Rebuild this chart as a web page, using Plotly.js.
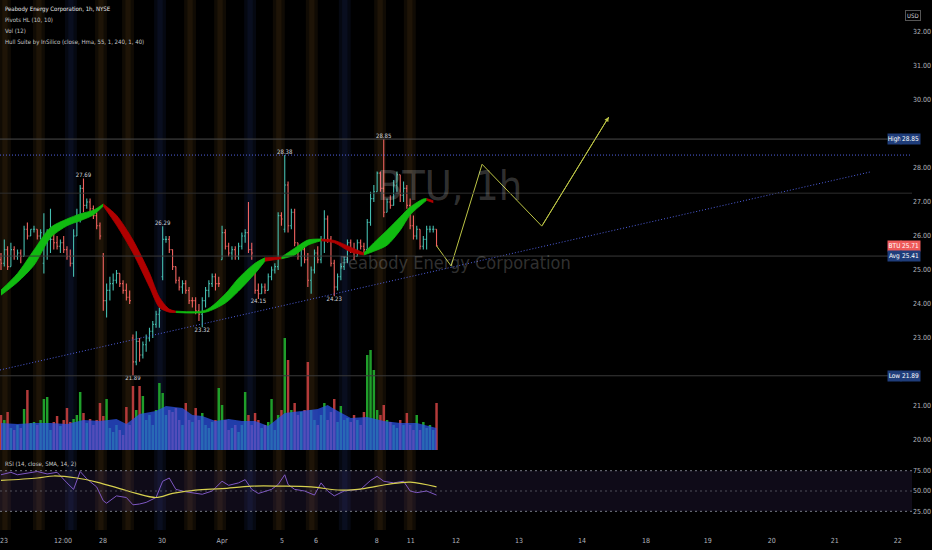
<!DOCTYPE html>
<html>
<head>
<meta charset="utf-8">
<script src="https://cdn.plot.ly/plotly-3.0.1.min.js"></script>
<style>html,body{margin:0;padding:0;background:#000;}#chart{width:932px;height:550px;}</style>
</head>
<body>
<div id="chart"></div>
<script>
// ---------------- DATA ----------------
const open = [25.3,25.2,25.6,25.1,25.6,25.4,25.5,25.4,26.2,26.0, 26.2,26.2,26.0,25.2,25.8,25.9,25.9,25.8,25.7,25.8, 25.6,25.4,25.2,26.0,26.6,27.4,26.9,27.0,26.8,26.6, 26.3,25.4,24.1,24.4,24.6,24.7,24.9,24.6,24.4,24.2, 23.0,22.3,22.9,22.5,22.8,23.0,23.2,23.4,23.7,24.8, 25.9,25.9,25.6,25.1,24.7,24.5,24.6,24.4,24.1,24.1, 23.8,23.7,24.1,24.4,24.6,24.8,24.6,25.3,26.1,25.7, 25.5,25.6,25.4,25.7,26.0,26.1,25.6,24.9,24.4,24.3, 24.5,24.4,24.8,25.0,25.1,26.6,26.2,27.5,26.3,26.7, 25.8,25.4,25.6,25.3,24.7,25.0,25.5,25.3,25.9,26.5, 25.9,25.2,24.5,24.8,25.1,25.3,25.8,25.6,25.4,25.8, 25.7,25.6,26.4,27.1,27.3,27.85,27.4,26.7,27.0,26.9, 27.5,27.8,27.2,27.4,26.9,26.3,26.0,26.2,25.7,25.9, 26.2,26.2,26.2];
const high = [25.5,25.9,25.7,25.8,25.7,25.6,25.6,26.3,26.4,26.2, 26.3,26.2,26.2,26.67,26.2,26.8,26.1,26.0,25.9,26.0, 25.7,25.6,26.2,26.8,27.5,27.69,27.1,27.1,26.9,26.7, 26.4,25.5,24.6,24.8,24.9,25.0,24.9,24.7,24.6,24.4, 23.1,23.2,23.0,22.9,23.1,23.3,23.5,23.8,23.9,26.29, 26.0,26.0,25.6,25.1,24.8,24.7,24.7,24.5,24.2,24.2, 24.0,24.2,24.5,24.7,24.9,24.9,24.8,26.3,26.2,25.8, 25.7,25.7,25.8,26.1,26.2,27.0,25.8,25.0,24.6,24.6, 24.6,24.9,25.1,25.2,26.7,26.7,28.38,27.6,26.8,26.8, 25.8,25.7,25.7,25.5,25.1,25.6,25.7,26.0,26.76,26.6, 26.0,25.3,24.9,25.2,25.4,25.9,25.9,25.8,25.9,25.9, 25.8,26.5,27.3,27.5,27.9,27.9,28.85,27.1,27.2,27.65, 27.9,27.8,27.6,27.5,27.1,26.6,26.3,26.2,26.0,26.3, 26.3,26.3,26.2];
const low = [25.0,25.1,25.0,25.1,25.3,25.3,25.2,25.4,25.9,26.0, 26.1,25.9,25.9,24.9,25.3,25.5,25.6,25.6,25.5,25.5, 25.3,25.1,24.8,26.0,26.4,26.7,26.8,26.7,26.5,26.2, 25.9,23.8,23.6,24.1,24.4,24.6,24.5,24.3,24.1,24.0, 21.89,22.2,22.3,22.4,22.6,22.9,23.0,23.3,23.3,24.7, 25.8,25.5,25.0,24.6,24.4,24.3,24.3,24.0,23.9,23.7, 23.5,23.32,23.9,24.2,24.5,24.4,24.5,25.3,25.6,25.4, 25.3,25.3,25.3,25.6,25.8,25.5,25.3,24.3,24.15,24.3, 24.3,24.4,24.7,24.9,25.0,26.3,26.1,26.1,26.2,25.7, 25.3,25.1,25.2,24.5,24.3,24.9,25.2,25.2,25.5,25.8, 25.1,24.23,24.4,24.7,25.0,25.2,25.5,25.3,25.4,25.6, 25.5,25.6,26.3,27.0,27.3,27.3,26.55,26.7,26.8,26.9, 27.3,27.0,27.0,26.8,26.2,25.9,25.9,25.6,25.6,25.6, 26.1,26.1,25.7];
const close = [25.2,25.6,25.1,25.6,25.4,25.5,25.4,26.2,26.0,26.2, 26.2,26.0,26.1,25.8,25.9,25.9,25.8,25.7,25.8,25.6, 25.4,25.2,26.0,26.6,27.4,26.9,27.0,26.8,26.6,26.3, 26.0,24.1,24.4,24.6,24.7,24.9,24.6,24.4,24.2,24.1, 22.3,22.9,22.5,22.8,23.0,23.2,23.4,23.7,23.8,25.9, 25.9,25.6,25.1,24.7,24.5,24.6,24.4,24.1,24.1,23.8, 23.7,24.1,24.4,24.6,24.8,24.6,24.6,26.1,25.7,25.5, 25.6,25.4,25.7,26.0,26.1,25.6,25.5,24.4,24.3,24.5, 24.4,24.8,25.0,25.1,26.6,26.5,27.5,26.3,26.7,25.8, 25.4,25.6,25.3,24.7,25.0,25.5,25.3,25.9,26.5,25.9, 25.2,24.5,24.8,25.1,25.3,25.8,25.6,25.4,25.8,25.7, 25.6,26.4,27.1,27.3,27.85,27.4,26.7,27.0,26.9,27.5, 27.8,27.2,27.4,26.9,26.3,26.0,26.2,25.7,25.9,26.2, 26.2,26.2,25.71];
// volume, thousands of shares
const volume = [350,300,380,220,200,250,220,410,600,270, 280,250,300,510,530,200,280,340,240,300, 420,280,310,350,580,370,270,310,250,300, 470,340,510,220,180,250,200,150,430,250, 640,400,640,540,300,350,250,400,670,570, 350,400,380,420,300,250,470,300,280,420, 300,370,250,220,280,300,620,450,300,200, 220,250,180,250,580,350,250,370,300,220, 250,280,510,200,350,400,1120,900,400,470, 350,380,400,880,400,300,250,350,470,300, 380,510,280,440,300,320,280,350,300,250, 380,950,1000,800,400,350,450,300,280,250, 220,300,250,370,250,200,350,200,280,220, 250,200,470];
const volMaIdx = [0,5,10,15,20,25,30,35,38,42,47,50,55,58,61,65,69,73,77,81,86,91,96,99,101,106,111,116,121,126,132];
const volMa    = [270,260,270,270,260,300,290,310,260,360,390,440,420,350,340,290,310,290,290,240,370,390,410,450,410,320,330,290,270,270,220];

// Hull Suite band (knots: bar index, upper edge, lower edge)
const hullIdx = [0,5,10,15,20,24,28,31,35,40,45,48,51,53,62,68,72,77,80,85,89,93,97,101,106,110,113,117,121,124,128,129,131];
const hullUp  = [24.41,24.9,25.59,26.25,26.5,26.65,26.76,26.94,26.61,25.88,24.91,24.2,23.85,23.79,23.82,24.3,24.76,25.2,25.36,25.38,25.64,25.88,25.91,25.87,25.67,25.5,25.8,26.17,26.56,26.85,27.09,27.1,27.04];
const hullLo  = [24.26,24.64,25.14,25.95,26.3,26.45,26.62,26.88,26.32,25.5,24.5,23.9,23.76,23.75,23.76,24.03,24.38,24.9,25.26,25.33,25.44,25.73,25.86,25.8,25.53,25.44,25.55,25.73,26.17,26.62,26.97,27.05,26.98];
// trend segments: [from knot, to knot, direction]
const hullSegments = [[0,7,'up'],[7,13,'down'],[13,18,'up'],[18,19,'down'],[19,22,'up'],[22,25,'down'],[25,31,'up'],[31,32,'down']];

// RSI (14) and its SMA (14)
const rsiIdx = [0,3,5,8,11,14,17,20,22,24,26,29,31,32,35,38,40,42,44,47,49,51,53,56,59,61,64,67,69,72,74,76,78,82,84,86,87,89,92,95,97,99,101,104,106,109,112,114,116,119,122,124,126,129,132];
const rsiVal = [70,73,70,72,74,71,73,60,52,74,65,55,38,35,44,42,33,34,36,42,62,66,52,49,47,46,50,62,57,60,64,52,47,52,58,70,58,52,50,45,60,50,44,50,51,52,63,68,62,60,62,50,48,50,45];
const smaIdx = [0,11,16,23,29,36,41,47,52,59,67,76,85,94,103,110,117,124,132];
const smaVal = [63,66,68.5,66,61,53,47,42,47,51,53,56,56,55,51,53,58,61,55];

// pivots
const pivotHighIdx = [25,49,86,116];
const pivotLowIdx  = [40,61,78,101];

// levels
const levelHigh = 28.85, levelLow = 21.89, levelAvg = 25.41, pivotLevel = 28.38, greyLevel = 27.26;

// drawings
const trendIdx = [-0.3, 263.3];
const trendPx  = [22.06, 27.88];
const projIdx = [132, 136.4, 145.8, 163.9, 184.2];
const projPx  = [25.71, 25.12, 28.11, 26.29, 29.5];

// session highlight columns (bar index)
const sessionIdx = [1.2,11.5,21.2,30.3,38.5,48.2,57.3,66.4,75.5,84.2,94.2,104.2,114.9,123.9];

// axis ticks
const tickIdx  = [0.9,18.8,30.9,48.8,67.0,85.2,95.5,113.9,124.2,137.9,157.0,176.1,195.5,214.2,233.6,252.7,271.8];
const tickText = ['23','12:00','28','30','Apr','5','6','8','11','12','13','14','18','19','20','21','22'];
const priceTicks = [20,21,23,24,25,26,27,28,30,31,32];
const rsiTicks = [25,50,75];

// ---------------- CHART ----------------
const F = "'Liberation Sans Narrow','DejaVu Sans Condensed','Arial Narrow',sans-serif";
const idx = open.map((_, i) => i);
const up = idx.map(i => close[i] >= open[i]);
const PLOT_W = 912, PLOT_H = 530;
const px = v => v / PLOT_W;
const py = v => 1 - v / PLOT_H;
const DOT = '1px,2px';

const traces = [];

// volume
traces.push({type:'bar', x: idx, y: volume, yaxis:'y3', width:0.75,
  marker:{color: up.map(u => u ? '#1f9e2a' : '#b43a3a'), line:{width:0}}, hoverinfo:'skip'});
traces.push({type:'scatter', mode:'lines', x: volMaIdx, y: volMa, yaxis:'y3', fill:'tozeroy',
  line:{width:0, color:'rgba(45,85,235,0.72)'}, fillcolor:'rgba(45,85,235,0.72)', hoverinfo:'skip'});

// price bars
traces.push({type:'ohlc', x: idx, open, high, low, close, tickwidth:0.35,
  increasing:{line:{color:'#45bcae', width:1.1}}, decreasing:{line:{color:'#f0635f', width:1.1}}, hoverinfo:'skip'});

// hull band
hullSegments.forEach(([a, b, dir]) => {
  const col = dir === 'up' ? '#10bb10' : '#b00000';
  const xs = hullIdx.slice(a, b + 1);
  traces.push({type:'scatter', mode:'lines', x: xs, y: hullLo.slice(a, b + 1),
    line:{color: col, width:0.8, shape:'spline', smoothing:0.8}, hoverinfo:'skip'});
  traces.push({type:'scatter', mode:'lines', x: xs, y: hullUp.slice(a, b + 1), fill:'tonexty', fillcolor: col,
    line:{color: col, width:0.8, shape:'spline', smoothing:0.8}, hoverinfo:'skip'});
});

// trend line & projection
traces.push({type:'scatter', mode:'lines', x: trendIdx, y: trendPx, line:{color:'#5060e0', width:1, dash:DOT}, hoverinfo:'skip'});
traces.push({type:'scatter', mode:'lines', x: projIdx, y: projPx, line:{color:'#bcc445', width:1}, hoverinfo:'skip'});

// pivot labels
traces.push({type:'scatter', mode:'text', x: pivotHighIdx, y: pivotHighIdx.map(i => high[i]),
  text: pivotHighIdx.map(i => high[i].toFixed(2)), textposition:'top center',
  textfont:{family:F, size:6, color:'#d1d4dc'}, hoverinfo:'skip'});
traces.push({type:'scatter', mode:'text', x: pivotLowIdx, y: pivotLowIdx.map(i => low[i]),
  text: pivotLowIdx.map(i => low[i].toFixed(2)), textposition:'bottom center',
  textfont:{family:F, size:6, color:'#d1d4dc'}, hoverinfo:'skip'});

// RSI
traces.push({type:'scatter', mode:'lines', x: rsiIdx, y: rsiVal, yaxis:'y2', line:{color:'#7e57c2', width:1}, hoverinfo:'skip'});
traces.push({type:'scatter', mode:'lines', x: smaIdx, y: smaVal, yaxis:'y2', line:{color:'#d6cf4e', width:1.2, shape:'spline'}, hoverinfo:'skip'});

// shapes
const shapes = [];
sessionIdx.forEach((s, k) => {
  const c = (k % 3 === 2) ? 'rgba(40,60,130,0.13)' : 'rgba(130,90,30,0.12)';
  shapes.push({type:'rect', xref:'x', yref:'paper', x0: s - 1.8, x1: s + 1.8, y0: 0, y1: 1, fillcolor: c, line:{width:0}, layer:'below'});
  shapes.push({type:'rect', xref:'x', yref:'paper', x0: s - 0.8, x1: s + 0.8, y0: 0, y1: 1, fillcolor: c, line:{width:0}, layer:'below'});
});
shapes.push({type:'rect', xref:'paper', yref:'y2', x0:0, x1:1, y0:25, y1:75, fillcolor:'rgba(126,87,194,0.12)', line:{width:0}, layer:'below'});
rsiTicks.forEach(v => shapes.push({type:'line', xref:'paper', yref:'y2', x0:0, x1:1, y0:v, y1:v,
  line:{color: v === 50 ? 'rgba(120,123,134,0.6)' : '#787b86', width:1, dash:'2px,3px'}}));
shapes.push({type:'line', xref:'paper', yref:'y', x0:0, x1:px(895), y0:levelHigh, y1:levelHigh, line:{color:'#4a4a4a', width:1}});
shapes.push({type:'line', xref:'paper', yref:'y', x0:0, x1:px(895), y0:levelLow, y1:levelLow, line:{color:'#3a3a3a', width:1}});
shapes.push({type:'line', xref:'paper', yref:'y', x0:0, x1:px(895), y0:levelAvg, y1:levelAvg, line:{color:'#3a3a3a', width:1}});
shapes.push({type:'line', xref:'paper', yref:'y', x0:0, x1:1, y0:greyLevel, y1:greyLevel, line:{color:'#2e2e2e', width:1}});
shapes.push({type:'line', xref:'paper', yref:'y', x0:0, x1:1, y0:pivotLevel, y1:pivotLevel, line:{color:'#5060e0', width:1, dash:DOT}});

// annotations
const ann = [];
const legendLines = [['Peabody Energy Corporation, 1h, NYSE', 9, '#e8e8e8'], ['Pivots HL (10, 10)', 20, '#c8c8c8'],
  ['Vol (12)', 31, '#c8c8c8'], ['Hull Suite by InSilico (close, Hma, 55, 1, 240, 1, 40)', 42, '#c8c8c8']];
legendLines.forEach(([t, y, c]) => ann.push({xref:'paper', yref:'paper', x: px(3), y: py(y), xanchor:'left', yanchor:'middle',
  text: t, showarrow:false, font:{family:F, size:6, color:c}}));
ann.push({xref:'paper', yref:'paper', x: px(3), y: py(463), xanchor:'left', yanchor:'middle', text:'RSI (14, close, SMA, 14, 2)',
  showarrow:false, font:{family:F, size:6, color:'#c8c8c8'}});
ann.push({xref:'paper', yref:'paper', x: px(449), y: py(186), text:'BTU, 1h', showarrow:false,
  font:{family:F, size:41, color:'rgba(255,255,255,0.2)'}});
ann.push({xref:'paper', yref:'paper', x: px(455), y: py(262), text:'Peabody Energy Corporation', showarrow:false,
  font:{family:F, size:18, color:'rgba(255,255,255,0.2)'}});
ann.push({xref:'paper', yref:'paper', x: px(921), y: py(10), text:'USD', showarrow:false, bgcolor:'#000',
  bordercolor:'#555', borderwidth:1, borderpad:1, font:{family:F, size:6, color:'#d1d4dc'}});
const tags = [['High', levelHigh, '#1f3d7a'], ['BTU', close[close.length - 1], '#ef5a5a'], ['Avg', levelAvg, '#1f3d7a'], ['Low', levelLow, '#1f3d7a']];
tags.forEach(([name, v, bg]) => {
  ann.push({xref:'paper', yref:'y', x: px(901.5), y: v, text: name, showarrow:false, bgcolor: bg, width:13, height:10, borderpad:0,
    font:{family:F, size:6.5, color:'#fff'}});
  ann.push({xref:'paper', yref:'y', x: px(920.5), y: v, text: v.toFixed(2), showarrow:false, bgcolor: bg, width:19, height:10, borderpad:0,
    font:{family:F, size:6.5, color:'#fff'}});
});
const n = projIdx.length;
ann.push({xref:'x', yref:'y', axref:'x', ayref:'y', x: projIdx[n - 1], y: projPx[n - 1], ax: projIdx[n - 2], ay: projPx[n - 2],
  text:'', showarrow:true, arrowhead:2, arrowsize:0.9, arrowwidth:1, arrowcolor:'#bcc445', standoff:0});

const tickfont = {family:F, size:7, color:'#b2b5be'};
const layout = {
  width:932, height:550, margin:{l:0, r:20, t:0, b:20},
  paper_bgcolor:'#000', plot_bgcolor:'#000', showlegend:false,
  xaxis:{range:[-0.3, 276.1], anchor:'y2', tickmode:'array', tickvals: tickIdx, ticktext: tickText, ticklabeloverflow:'allow',
    ticklabelstandoff:5, showgrid:false, zeroline:false, showline:false, ticks:'', tickfont, rangeslider:{visible:false}, fixedrange:true},
  yaxis:{domain:[0.1415, 1], range:[19.56, 32.94], side:'right', tickmode:'array', tickvals: priceTicks,
    ticktext: priceTicks.map(v => v.toFixed(2)), showgrid:false, zeroline:false, showline:false, ticks:'', tickfont, fixedrange:true},
  yaxis2:{domain:[0, 0.1415], range:[2.03, 94.3], side:'right', tickmode:'array', tickvals: rsiTicks,
    ticktext: rsiTicks.map(v => v.toFixed(2)), showgrid:false, zeroline:false, showline:false, ticks:'', tickfont, fixedrange:true},
  yaxis3:{overlaying:'y', range:[-50, 4500], visible:false, showgrid:false, zeroline:false, fixedrange:true},
  shapes, annotations: ann
};

Plotly.newPlot('chart', traces, layout, {displayModeBar:false, staticPlot:true});
</script>
</body>
</html>
